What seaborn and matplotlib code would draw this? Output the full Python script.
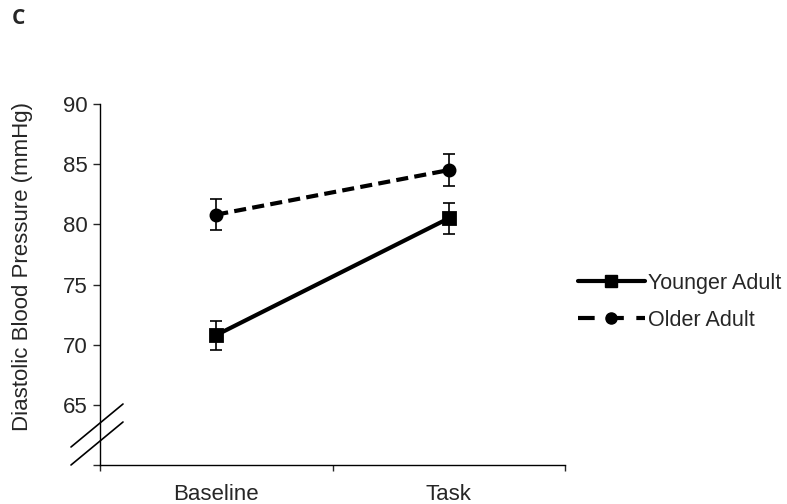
import matplotlib
matplotlib.use("Agg")
import matplotlib.pyplot as plt
import pandas as pd
import seaborn as sns
from matplotlib.lines import Line2D

conditions = ["Baseline", "Task"]
groups = ["Younger Adult", "Older Adult"]
younger = [70.8, 80.5]
older = [80.8, 84.5]
younger_err = [1.2, 1.3]
older_err = [1.3, 1.3]

df = pd.DataFrame({
    "condition": conditions * 2,
    "group": [groups[0]] * 2 + [groups[1]] * 2,
    "dbp": younger + older,
})

sns.set_style("ticks")
plt.rcParams["font.family"] = ["Liberation Sans", "DejaVu Sans"]

fig = plt.figure(figsize=(7.87, 5.04), dpi=100)
ax = fig.add_axes([0.127, 0.077, 0.591, 0.717])

sns.pointplot(data=df, x="condition", y="dbp", hue="group", order=conditions,
              hue_order=groups, palette=["black", "black"], markers=["s", "o"],
              linestyles=["-", "--"], errorbar=None, legend=False, ax=ax)

for line in ax.lines:
    line.set_linewidth(3)
    line.set_markersize(8)
    if line.get_linestyle() == "--":
        line.set_dashes((2.9, 1.5))

ax.errorbar([0, 1], younger, yerr=younger_err, fmt="none", ecolor="black",
            elinewidth=1.2, capsize=4, capthick=1.2, zorder=5)
ax.errorbar([0, 1], older, yerr=older_err, fmt="none", ecolor="black",
            elinewidth=1.2, capsize=4, capthick=1.2, zorder=5)

ax.set_xlim(-0.5, 1.5)
ax.set_ylim(60, 90)
ax.set_yticks([60, 65, 70, 75, 80, 85, 90])
ax.set_yticklabels(["", "65", "70", "75", "80", "85", "90"], fontsize=16)
ax.set_xticks([0, 1])
ax.set_xticklabels(conditions, fontsize=16)
ax.tick_params(axis="x", which="major", length=0, pad=13.5)
ax.set_xticks([-0.5, 0.5, 1.5], minor=True)
ax.tick_params(axis="x", which="minor", length=4, width=1, direction="out")
ax.tick_params(axis="y", length=5, width=1, direction="out", pad=4)
ax.set_xlabel("")
ax.set_ylabel("Diastolic Blood Pressure (mmHg)", fontsize=16)
ax.yaxis.set_label_coords(-0.143, 0.551)
sns.despine(ax=ax)
for s in ["left", "bottom"]:
    ax.spines[s].set_linewidth(1)
    ax.spines[s].set_color("black")

# axis break marks
for y0 in [447, 465]:
    fig.add_artist(Line2D([71 / 787, 123 / 787],
                          [1 - y0 / 504, 1 - (y0 - 43) / 504],
                          color="black", lw=1.2))

handles = [Line2D([], [], color="black", lw=3, marker="s", markersize=8),
           Line2D([], [], color="black", lw=3, marker="o", markersize=8,
                  dashes=(4, 3))]
fig.legend(handles, groups, loc="center left", bbox_to_anchor=(578 / 787, 0.401),
           frameon=False, fontsize=15.5, handlelength=3.1, handletextpad=0.14,
           labelspacing=0.75, borderpad=0, borderaxespad=0)

fig.text(12 / 787, 1 - 19 / 504, "C", fontsize=15, fontweight="bold",
         family="Open Sans", va="center", ha="left")

fig.savefig("out.png", dpi=100)
